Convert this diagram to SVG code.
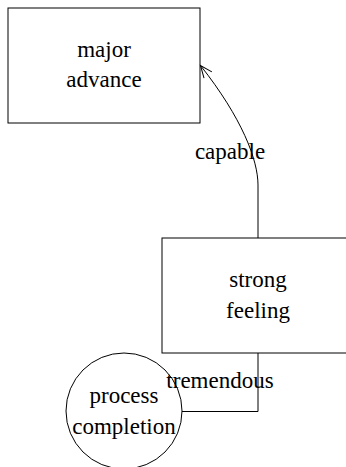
<svg xmlns="http://www.w3.org/2000/svg" width="346" height="467" viewBox="0 0 346 467">
<defs>
<marker id="ah" markerWidth="16" markerHeight="16" refX="13" refY="6" orient="auto" markerUnits="userSpaceOnUse">
<path d="M1,1 L13,6 L1,11" fill="none" stroke="#000" stroke-width="1"/>
</marker>
</defs>
<rect width="346" height="467" fill="#fff"/>
<g fill="#fff" stroke="#000" stroke-width="1">
<g id="major-advance">
<rect x="8" y="8" width="192" height="115"/>
<text font-family="Liberation Serif" font-size="23" text-anchor="middle" fill="#000" stroke="none" x="104" y="57">major</text>
<text font-family="Liberation Serif" font-size="23" text-anchor="middle" fill="#000" stroke="none" x="104" y="87">advance</text>
</g>
<g id="strong-feeling">
<rect x="162" y="238" width="192" height="115"/>
<text font-family="Liberation Serif" font-size="23" text-anchor="middle" fill="#000" stroke="none" x="258" y="287">strong</text>
<text font-family="Liberation Serif" font-size="23" text-anchor="middle" fill="#000" stroke="none" x="258" y="318">feeling</text>
</g>
<g id="process-completion">
<circle cx="124" cy="411" r="58"/>
<text font-family="Liberation Serif" font-size="23" text-anchor="middle" fill="#000" stroke="none" x="124" y="403">process</text>
<text font-family="Liberation Serif" font-size="23" text-anchor="middle" fill="#000" stroke="none" x="124" y="434">completion</text>
</g>
</g>
<g id="edges" fill="none" stroke="#000" stroke-width="1">
<path d="M258,238 V185 C258,160 242,118 200.5,65.5" marker-end="url(#ah)"/>
<path d="M258,353 V411.5 H182"/>
</g>
<g id="labels" font-family="Liberation Serif" font-size="23" text-anchor="middle" fill="#000">
<text x="230" y="159">capable</text>
<text x="220" y="388">tremendous</text>
</g>
</svg>
